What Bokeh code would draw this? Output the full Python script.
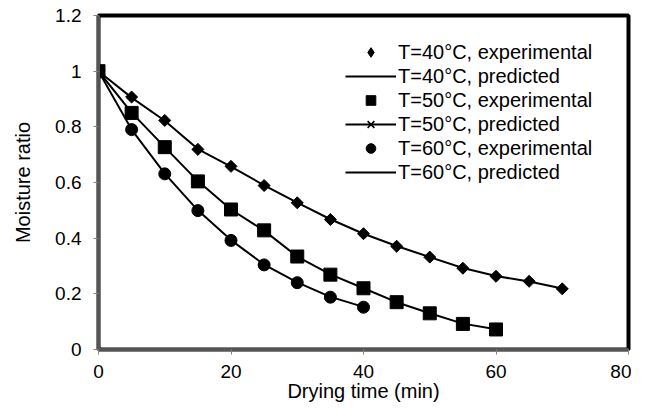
from bokeh.plotting import figure
from bokeh.models import Legend, LegendItem, FixedTicker, CustomJSTickFormatter
from bokeh.embed import file_html
from bokeh.resources import INLINE

time_40 = [0, 5, 10, 15, 20, 25, 30, 35, 40, 45, 50, 55, 60, 65, 70]
exp_40 = [1.0, 0.907, 0.823, 0.719, 0.658, 0.589, 0.527, 0.467, 0.416, 0.371, 0.332, 0.292, 0.263, 0.245, 0.218]
pred_40 = [1.0, 0.905, 0.822, 0.72, 0.657, 0.59, 0.528, 0.468, 0.416, 0.372, 0.332, 0.293, 0.264, 0.244, 0.219]

time_50 = [0, 5, 10, 15, 20, 25, 30, 35, 40, 45, 50, 55, 60]
exp_50 = [1.0, 0.85, 0.727, 0.604, 0.503, 0.428, 0.334, 0.269, 0.22, 0.17, 0.13, 0.092, 0.072]
pred_50 = [1.0, 0.851, 0.727, 0.605, 0.503, 0.427, 0.334, 0.27, 0.22, 0.17, 0.13, 0.093, 0.073]

time_60 = [0, 5, 10, 15, 20, 25, 30, 35, 40]
exp_60 = [1.0, 0.79, 0.631, 0.499, 0.392, 0.304, 0.24, 0.188, 0.152]
pred_60 = [1.0, 0.79, 0.632, 0.5, 0.393, 0.305, 0.241, 0.189, 0.153]

x_ticks = [0, 20, 40, 60, 80]
y_ticks = [0, 0.2, 0.4, 0.6, 0.8, 1.0, 1.2]
x_min, x_max = 0, 80
y_min, y_max = 0, 1.2

FONT = "Liberation Sans"

p = figure(width=631, height=404, x_range=(x_min, x_max), y_range=(y_min, y_max),
           output_backend="svg", toolbar_location=None,
           min_border_left=98, min_border_right=3, min_border_top=15, min_border_bottom=55)
p.xgrid.visible = False
p.ygrid.visible = False
p.outline_line_color = "black"
p.outline_line_width = 4
p.background_fill_color = "white"

l40 = p.line(time_40, pred_40, line_color="black", line_width=2)
m40 = p.scatter(time_40, exp_40, marker="square", angle=0.785398, size=8.5, color="black")
l50 = p.line(time_50, pred_50, line_color="black", line_width=2)
x50 = p.scatter(time_50, pred_50, marker="x", size=9, line_color="black", line_width=1.5)
m50 = p.scatter(time_50, exp_50, marker="square", size=13, color="black")
l60 = p.line(time_60, pred_60, line_color="black", line_width=2)
m60 = p.scatter(time_60, exp_60, marker="circle", size=12, color="black")

# legend-only diamond swatch (placed outside the visible ranges)
legend_diamond = p.scatter([x_min - 100], [y_min - 100], marker="diamond", size=17, color="black")

for ax in (p.xaxis[0], p.yaxis[0]):
    ax.axis_line_color = "#555555"
    ax.axis_line_width = 3
    ax.major_tick_line_color = "#808080"
    ax.major_tick_out = 5
    ax.major_tick_in = 0
    ax.minor_tick_line_color = None
    ax.major_label_text_font = FONT
    ax.major_label_text_font_size = "19px"
    ax.major_label_text_color = "black"
    ax.axis_label_text_font = FONT
    ax.axis_label_text_font_size = "20px"
    ax.axis_label_text_font_style = "normal"
    ax.axis_label_text_color = "black"

p.xaxis.ticker = FixedTicker(ticks=x_ticks)
p.yaxis.ticker = FixedTicker(ticks=y_ticks)
p.yaxis.formatter = CustomJSTickFormatter(code="return String(Math.round(tick*10)/10)")
p.xaxis.axis_label = "Drying time (min)"
p.yaxis.axis_label = "Moisture ratio"
p.xaxis.major_label_standoff = 10
p.yaxis.major_label_standoff = 12
p.xaxis.axis_label_standoff = -1
p.yaxis.axis_label_standoff = 18

legend = Legend(items=[
    LegendItem(label="T=40°C, experimental", renderers=[legend_diamond]),
    LegendItem(label="T=40°C, predicted", renderers=[l40]),
    LegendItem(label="T=50°C, experimental", renderers=[m50]),
    LegendItem(label="T=50°C, predicted", renderers=[l50, x50]),
    LegendItem(label="T=60°C, experimental", renderers=[m60]),
    LegendItem(label="T=60°C, predicted", renderers=[l60]),
], location=(247, 165))
legend.padding = 0
legend.margin = 0
legend.spacing = 0
legend.glyph_width = 51
legend.glyph_height = 24
legend.label_height = 24
legend.label_standoff = 2
legend.label_text_font = FONT
legend.label_text_font_size = "20px"
legend.label_text_color = "black"
legend.border_line_color = None
legend.background_fill_alpha = 0
p.add_layout(legend, "center")

open("out.html", "w").write(file_html(p, INLINE))
